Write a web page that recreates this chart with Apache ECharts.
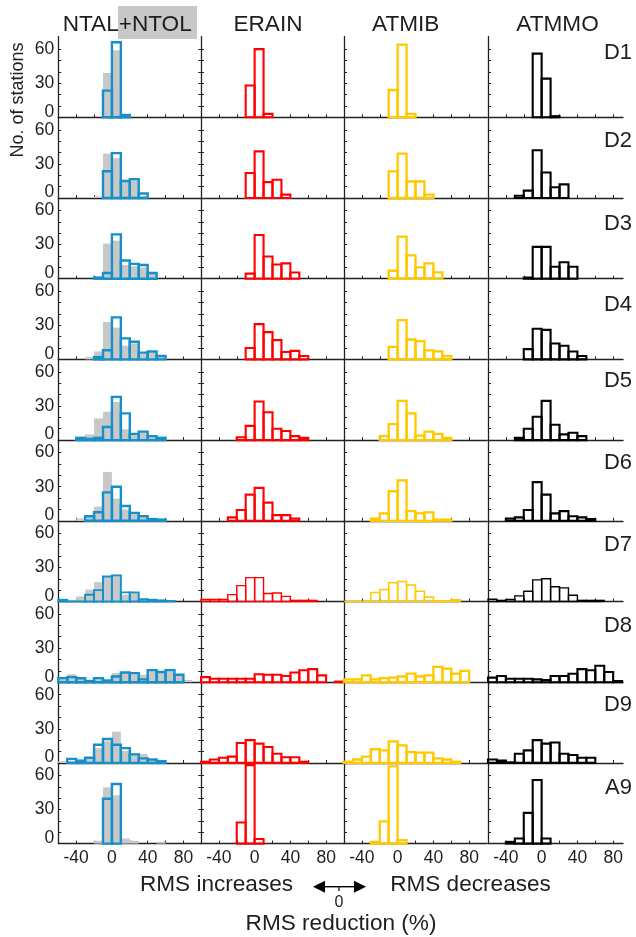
<!DOCTYPE html>
<html><head><meta charset="utf-8">
<script src="https://cdn.jsdelivr.net/npm/echarts@6/dist/echarts.min.js"></script>
<style>html,body{margin:0;padding:0;background:#fff}#c{width:636px;height:937px}</style>
</head><body><div id="c"></div>
<script>
// ---------- data ----------
const BIN_STARTS = [-60,-50,-40,-30,-20,-10,0,10,20,30,40,50,60,70,80,90]; // bin width 10 %
const BIN_WIDTH = 10;
const ROW_LABELS = ['D1','D2','D3','D4','D5','D6','D7','D8','D9','A9'];
const COLUMN_TITLES = ['NTAL+NTOL','ERAIN','ATMIB','ATMMO'];
const X_TICK_LABELS = [-40,0,40,80];
const X_MINOR_TICKS = [-40,-20,0,20,40,60,80];
const Y_TICK_LABELS = [0,30,60];
const Y_MINOR_TICKS = [10,20,30,40,50,60];
const n = null;

// NTOL (gray filled)
const NTOL = [
  [n,n,n,n,n,39,59,n,n,n,n,n,n,n,n,n],
  [n,n,n,n,1.5,39,35,14,15,2,n,n,n,n,n,n],
  [n,n,n,n,1,31,33.5,12,11,10,5,n,n,n,n,n],
  [n,n,n,2,7,33,28,12,14,5,6,2,n,n,n,n],
  [n,n,1,5,19,25,33.5,9.5,5,7,3,1.5,n,n,n,n],
  [n,n,2,3,12.5,43,19.5,10,6,3,2,1,n,n,n,n],
  [1,0.5,4.5,10.5,17,21.5,23.5,6,7.5,2,1.5,1,0.5,n,n,n],
  [2,7,3,2,2,1,8,8,7,6.5,9,8,9,6,2,n],
  [1.5,2,2,4,13,19,27.5,10.5,8.5,8,3,2,n,n,n,n],
  [n,n,n,n,2.5,49.5,42.5,4.5,2.5,n,n,1.5,n,n,n,n]
];
// NTAL+NTOL (blue outline)
const NTAL_NTOL = [
  [n,n,n,n,n,23.5,66,2,n,n,n,n,n,n,n,n],
  [n,n,n,n,n,23.5,39.5,15,16.5,4,n,n,n,n,n,n],
  [n,n,n,n,1,5,39,16,13,12,5,n,n,n,n,n],
  [n,n,n,n,2,8,37,18.5,15.5,6,7,3,n,n,n,n],
  [n,n,2,1,2,11.5,38,23.5,5.5,7.5,3.5,2,n,n,n,n],
  [n,n,n,4,7.5,25,30,13,7,4,1.5,1,n,n,n,n],
  [1.5,0,0,6,10,22,23,8,8,2,1.5,1,0.5,n,n,n],
  [3.5,4.5,3.5,1,3.5,1.5,5,8.5,8,2.5,10.5,9,10.5,6.5,n,n],
  [n,3.5,2,4.5,16,21,16,13,7.5,4,3,1.5,n,n,n,n],
  [n,n,n,n,n,39.5,52.5,n,n,n,n,n,n,n,n,n]
];
const ERAIN = [
  [n,n,n,n,n,28,60,3,n,n,n,n,n,n,n,n],
  [n,n,n,n,n,22,41,14,16,3,n,n,n,n,n,n],
  [n,n,n,n,n,4.5,38.5,19.5,12.5,13.5,5.5,n,n,n,n,n],
  [n,n,n,n,n,10,31,24,17,6.5,7.5,3,n,n,n,n],
  [n,n,n,n,2.5,12.5,34,24.5,10,8,3.5,2,n,n,n,n],
  [n,n,n,3,9.5,23,29,16,5,5,2,n,n,n,n,n],
  [1.8,1.8,1.8,6,14,21,21,7,7.5,4.5,1,1,1,n,n,n],
  [4.5,3,3,3,3,3,7,6.5,6.5,5.5,8.5,10.5,11.5,6,n,0.5],
  [1,3,4.5,5.5,17.5,20,17,14,8,5,5,1,n,n,n,n],
  [n,n,n,n,18.5,69,4,n,n,n,n,n,n,n,n,n]
];
const ATMIB = [
  [n,n,n,n,n,24,64,3,n,n,n,n,n,n,n,n],
  [n,n,n,n,n,23.5,39,14.5,14.5,3,n,n,n,n,n,n],
  [n,n,n,n,n,7,37,20.5,10,13.5,5.5,n,n,n,n,n],
  [n,n,n,n,n,11,34.5,17.5,16,8,7,3,n,n,n,n],
  [n,n,n,n,3.5,14,34.5,23.5,4,7.5,5.5,2,n,n,n,n],
  [n,n,n,2,6.5,26,35.5,8.5,6.5,7.5,1,1,n,n,n,n],
  [0,0,0,8,10.5,16.5,17.5,14.5,9,4,0.5,0.5,1.5,n,n,n],
  [2.5,2.5,6,2.5,3.5,4,5,7.5,5,6,13.5,12,7.5,10,n,n],
  [1,3,5.5,12,11,19,15.5,9.5,9,9,4,3,1,n,n,n],
  [n,n,n,1.5,19.5,68,3,n,n,n,n,n,n,n,n,n]
];
const ATMMO = [
  [n,n,n,n,n,56,34,1,n,n,n,n,n,n,n,n],
  [n,n,n,2,6.5,42,22.5,9.5,12,n,n,n,n,n,n,n],
  [n,n,n,n,1,28,28,10.5,14.5,10.5,n,n,n,n,n,n],
  [n,n,n,n,9,27,26,14,12,7,3,n,n,n,n,n],
  [n,n,n,2,10,20.5,34.5,13.5,5,6.5,3.5,n,n,n,n,n],
  [n,n,2,3,9.5,34,23,6.5,8.5,4,3,1.5,n,n,n,n],
  [2,1,1.8,5,9,19,20,13,12,5.5,1,1,1,n,n,n],
  [4,5.5,3,3,3,2.5,2,5.5,5.5,7.5,11.5,10.5,14.5,9,1,n],
  [3,2,0.5,8,11,20,17,18,8,7,4.5,4.5,n,n,n,n],
  [n,n,1.5,4.5,27,56,4.5,n,n,n,n,n,n,n,n,n]
];

// ---------- layout / style ----------
const FONT = '"Liberation Sans", Arial, Helvetica, sans-serif';
const TXT = '#1e1e1e';
const AX = '#222';
const COL_LEFT = [58.3, 201, 344, 488];
const COL_WIDTH = [143, 143, 143, 135];
const COL_XMAX = [100, 100, 100, 91];
const ROW_TOP0 = 36.6, ROW_H = 80.7, Y_MAX = 71;
const ROW_LABEL_Y = [52.5, 140.7, 223.5, 305, 380.5, 463, 545, 626, 704.5, 788];

const chart = echarts.init(document.getElementById('c'), null, {renderer: 'canvas'});

const grids = [], xAxes = [], yAxes = [], series = [];
const rightAxes = [];

function hist(g, values, style, z) {
  return {
    type: 'custom', xAxisIndex: g, yAxisIndex: g, z: z, silent: true, animation: false,
    data: BIN_STARTS.map((s, i) => [s, values[i]]).filter(d => d[1] !== null),
    renderItem: function (params, api) {
      const x0 = api.value(0), v = api.value(1);
      const p0 = api.coord([x0, v]);
      const p1 = api.coord([x0 + BIN_WIDTH, 0]);
      return {type: 'rect', shape: {x: p0[0], y: p0[1], width: p1[0] - p0[0], height: p1[1] - p0[1]}, style: style};
    }
  };
}

for (let r = 0; r < 10; r++) {
  for (let c = 0; c < 4; c++) {
    const g = r * 4 + c;
    grids.push({left: COL_LEFT[c], top: ROW_TOP0 + r * ROW_H, width: COL_WIDTH[c], height: ROW_H});
    xAxes.push({
      gridIndex: g, type: 'value', min: -60, max: COL_XMAX[c],
      axisLine: {show: true, onZero: false, lineStyle: {color: AX, width: 1.3}},
      axisTick: {show: true, inside: true, length: 3, customValues: X_MINOR_TICKS, lineStyle: {color: AX, width: 1}},
      axisLabel: {show: r === 9, customValues: X_TICK_LABELS, margin: 6, fontSize: 17.5, fontFamily: FONT, color: TXT},
      splitLine: {show: false}
    });
    yAxes.push({
      gridIndex: g, type: 'value', min: 0, max: Y_MAX,
      axisLine: {show: true, onZero: false, lineStyle: {color: AX, width: 1.3}},
      axisTick: {show: true, inside: true, length: 3, customValues: Y_MINOR_TICKS, lineStyle: {color: AX, width: 1}},
      axisLabel: {
        show: c === 0, customValues: Y_TICK_LABELS, margin: 4, fontSize: 17.5, fontFamily: FONT, color: TXT,
        formatter: v => v === 0 ? '{z|0}' : String(v),
        rich: {z: {padding: [0, 0, 11, 0], fontSize: 17.5, fontFamily: FONT, color: TXT}}
      },
      splitLine: {show: false}
    });
    const lw = (r === 6) ? 0.65 : 1;
    if (c === 0) {
      series.push(hist(g, NTOL[r], {fill: '#c8c8c8'}, 2));
      series.push(hist(g, NTAL_NTOL[r], {fill: 'none', stroke: '#1790c9', lineWidth: 2.4 * (r === 6 ? 0.8 : 1)}, 3));
    } else if (c === 1) {
      series.push(hist(g, ERAIN[r], {fill: 'none', stroke: '#ff0000', lineWidth: 2.1 * lw}, 3));
    } else if (c === 2) {
      series.push(hist(g, ATMIB[r], {fill: 'none', stroke: '#ffc800', lineWidth: 2.3 * lw}, 3));
    } else {
      series.push(hist(g, ATMMO[r], {fill: 'none', stroke: '#000000', lineWidth: 2.1 * lw}, 3));
    }
  }
}
// right-side inward ticks for the first column
for (let r = 0; r < 10; r++) {
  rightAxes.push({
    gridIndex: r * 4, type: 'value', position: 'right', min: 0, max: Y_MAX,
    axisLine: {show: false, onZero: false},
    axisTick: {show: true, inside: true, length: 3, customValues: Y_MINOR_TICKS, lineStyle: {color: AX, width: 1}},
    axisLabel: {show: false}, splitLine: {show: false}
  });
}

const graphic = [];
graphic.push({type: 'rect', z: 1, shape: {x: 118, y: 6, width: 79, height: 33}, style: {fill: '#c8c8c8'}});
const TITLE_X = [127.2, 268, 405.7, 557.5];
COLUMN_TITLES.forEach((t, i) => {
  graphic.push({type: 'text', z: 2, x: TITLE_X[i], y: 25,
    style: {text: t, fontSize: 22.6, fontFamily: FONT, fill: TXT, align: 'center', verticalAlign: 'middle'}});
});
ROW_LABELS.forEach((t, i) => {
  graphic.push({type: 'text', z: 2, x: 632, y: ROW_LABEL_Y[i],
    style: {text: t, fontSize: 22, fontFamily: FONT, fill: TXT, align: 'right', verticalAlign: 'middle'}});
});
graphic.push({type: 'text', z: 2, x: 18.5, y: 100, rotation: Math.PI / 2,
  style: {text: 'No. of stations', fontSize: 18, fontFamily: FONT, fill: TXT, align: 'center', verticalAlign: 'middle'}});
graphic.push({type: 'text', z: 2, x: 216.5, y: 885,
  style: {text: 'RMS increases', fontSize: 22.6, fontFamily: FONT, fill: TXT, align: 'center', verticalAlign: 'middle'}});
graphic.push({type: 'text', z: 2, x: 470.5, y: 885,
  style: {text: 'RMS decreases', fontSize: 22.6, fontFamily: FONT, fill: TXT, align: 'center', verticalAlign: 'middle'}});
graphic.push({type: 'text', z: 2, x: 341, y: 924,
  style: {text: 'RMS reduction (%)', fontSize: 22.6, fontFamily: FONT, fill: TXT, align: 'center', verticalAlign: 'middle'}});
graphic.push({type: 'text', z: 2, x: 339, y: 902.5,
  style: {text: '0', fontSize: 16, fontFamily: FONT, fill: TXT, align: 'center', verticalAlign: 'middle'}});
// double arrow
graphic.push({type: 'line', z: 2, shape: {x1: 324, y1: 886.7, x2: 355, y2: 886.7}, style: {stroke: '#000', lineWidth: 1.4}});
graphic.push({type: 'line', z: 2, shape: {x1: 339, y1: 886.7, x2: 339, y2: 891}, style: {stroke: '#000', lineWidth: 1.2}});
graphic.push({type: 'polygon', z: 2, shape: {points: [[313, 886.7], [325, 880.7], [325, 892.7]]}, style: {fill: '#000'}});
graphic.push({type: 'polygon', z: 2, shape: {points: [[366, 886.7], [354, 880.7], [354, 892.7]]}, style: {fill: '#000'}});

chart.setOption({
  animation: false,
  backgroundColor: '#ffffff',
  grid: grids,
  xAxis: xAxes,
  yAxis: yAxes.concat(rightAxes),
  series: series,
  graphic: graphic
});
</script>
</body></html>
